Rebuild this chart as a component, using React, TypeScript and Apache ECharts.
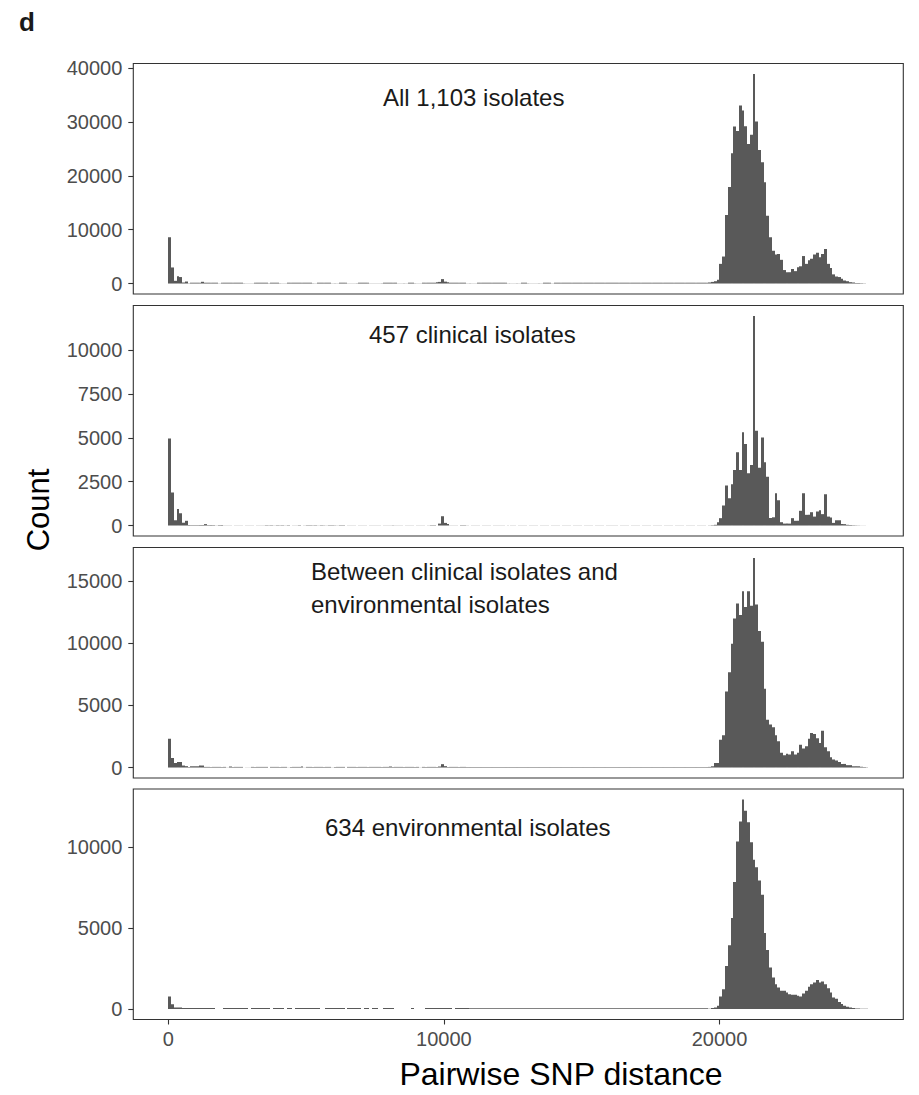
import React, { useEffect, useRef } from "react";
import * as echarts from "echarts";

const FONT = "'Liberation Sans', Arial, Helvetica, sans-serif";
const BIN_WIDTH = 100;
const PEAK_START_BIN = 196;
const X_MIN = -1270;
const X_MAX = 26670;
const X_TICKS = [0, 10000, 20000];

const panelTitles = [
  ["All 1,103 isolates"],
  ["457 clinical isolates"],
  ["Between clinical isolates and", "environmental isolates"],
  ["634 environmental isolates"],
];

const yTicks = [
  [0, 10000, 20000, 30000, 40000],
  [0, 2500, 5000, 7500, 10000],
  [0, 5000, 10000, 15000],
  [0, 5000, 10000],
];

// ---- Panel 1: all 1,103 isolates ----
const allHead = [8600, 2980, 500, 1350, 1200, 190, 370, 40];
const allRuns = [
  [8, 11, 150], [12, 12, 320], [13, 17, 150], [18, 18, 30], [19, 26, 150], [27, 30, 30],
  [31, 35, 150], [36, 36, 30], [37, 39, 150], [40, 42, 30], [43, 51, 150], [52, 53, 30],
  [54, 58, 150], [59, 61, 30], [62, 64, 150], [65, 68, 30], [69, 72, 150], [73, 77, 30],
  [78, 82, 150], [83, 86, 30], [87, 88, 150], [89, 91, 30], [92, 96, 150], [97, 97, 250],
  [98, 98, 300], [99, 99, 820], [100, 100, 350], [101, 101, 250], [102, 107, 150],
  [108, 111, 30], [112, 122, 150], [123, 127, 30], [128, 129, 150], [130, 135, 30],
  [136, 138, 150], [139, 139, 30], [140, 195, 150],
];
const allPeak = [
  200, 300, 430, 680, 3650, 5010, 12700, 17900, 24200, 29150, 28300, 33050, 32100, 29200,
  25900, 27600, 38900, 30100, 24800, 22500, 18800, 12600, 8600, 6100, 5400, 5500, 4400,
  2500, 2100, 2100, 2700, 2300, 3000, 3200, 5100, 3650, 4300, 4600, 5400, 5700, 4900,
  5500, 6400, 3650, 2900, 1700, 1300, 1200, 870, 560, 430, 250, 190, 120, 100, 70, 40, 20,
];

// ---- Panel 2: 457 clinical isolates ----
const clinHead = [4970, 1880, 300, 950, 700, 160, 270, 30];
const clinRuns = [
  [8, 11, 25], [12, 12, 30], [13, 13, 80], [14, 16, 25], [17, 17, 8], [18, 19, 25],
  [20, 34, 8], [35, 37, 20], [38, 38, 8], [39, 41, 20], [42, 42, 8], [43, 43, 20],
  [44, 46, 8], [47, 47, 20], [48, 49, 8], [50, 53, 20], [54, 54, 8], [55, 56, 20],
  [57, 57, 8], [58, 60, 20], [61, 61, 8], [62, 63, 20], [64, 80, 8], [81, 81, 20],
  [82, 94, 8], [95, 96, 20], [97, 97, 8], [98, 98, 110], [99, 99, 530], [100, 100, 150],
  [101, 101, 80], [102, 105, 8], [106, 107, 20], [108, 195, 8],
];
const clinPeak = [
  10, 20, 40, 190, 420, 1140, 2280, 1560, 2350, 3170, 4180, 3170, 5320, 4650, 2980, 3450,
  11960, 5410, 3300, 5030, 3610, 2790, 430, 470, 1840, 1440, 190, 110, 110, 110, 420, 270,
  270, 840, 1840, 610, 610, 760, 510, 800, 870, 650, 1780, 510, 460, 150, 300, 300, 80,
  80, 40, 30, 20, 10, 10, 5, 5, 5,
];

// ---- Panel 3: between clinical and environmental isolates ----
const betwHead = [2320, 770, 370, 450, 450, 160, 110, 50, 100, 100, 100, 160, 160, 50];
const betwRuns = [
  [14, 20, 50], [21, 21, 10], [22, 22, 80], [23, 26, 50], [27, 29, 10], [30, 35, 50],
  [36, 36, 10], [37, 42, 50], [43, 43, 10], [44, 47, 50], [48, 48, 90], [49, 49, 10],
  [50, 58, 50], [59, 59, 10], [60, 63, 50], [64, 64, 10], [65, 79, 50], [80, 80, 80],
  [81, 90, 50], [91, 91, 10], [92, 97, 50], [98, 98, 80], [99, 99, 270], [100, 100, 110],
  [101, 107, 50], [108, 195, 40],
];
const betwPeak = [
  50, 100, 370, 370, 2240, 2590, 6120, 7670, 9960, 11990, 13190, 12260, 14180, 12900,
  14180, 13000, 16850, 13110, 10980, 10120, 6330, 3850, 3450, 3230, 2590, 2110, 1180, 990,
  1100, 1040, 1310, 1040, 1180, 1840, 1520, 1710, 2320, 2780, 2700, 2350, 1980, 2960,
  1630, 1310, 830, 640, 560, 450, 290, 290, 190, 190, 100, 100, 100, 60, 40, 20,
];

// ---- Panel 4: 634 environmental isolates ----
const envHead = [780, 290, 100, 100, 100];
const envRuns = [
  [5, 16, 60], [17, 19, 8], [20, 28, 60], [29, 29, 8], [30, 36, 60], [37, 37, 8],
  [38, 41, 60], [42, 42, 8], [43, 44, 60], [45, 45, 8], [46, 54, 60], [55, 56, 8],
  [57, 63, 60], [64, 64, 8], [65, 69, 60], [70, 70, 8], [71, 72, 60], [73, 73, 8],
  [74, 75, 60], [76, 77, 8], [78, 81, 60], [82, 87, 8], [88, 88, 60], [89, 92, 8],
  [93, 102, 60], [103, 103, 8], [104, 108, 60], [109, 195, 45],
];
const envPeak = [
  20, 60, 100, 200, 780, 1230, 2670, 3940, 5640, 7860, 10370, 11600, 12970, 12270, 11560,
  10320, 9240, 8780, 7960, 7080, 4700, 3650, 2570, 1950, 1540, 1330, 1130, 1130, 1030,
  920, 880, 880, 820, 780, 960, 1130, 1380, 1540, 1640, 1790, 1640, 1700, 1540, 1290,
  1030, 720, 640, 430, 310, 200, 140, 100, 60, 40, 30, 20, 15, 10,
];

const panelData = [
  { head: allHead, runs: allRuns, peak: allPeak },
  { head: clinHead, runs: clinRuns, peak: clinPeak },
  { head: betwHead, runs: betwRuns, peak: betwPeak },
  { head: envHead, runs: envRuns, peak: envPeak },
];

function buildBins(head: number[], runs: number[][], peak: number[]) {
  const counts = new Map<number, number>();
  head.forEach((c, i) => counts.set(i, c));
  runs.forEach(([a, b, c]) => {
    for (let k = a; k <= b; k++) counts.set(k, c);
  });
  peak.forEach((c, i) => counts.set(PEAK_START_BIN + i, c));
  return Array.from(counts.entries())
    .filter(([, c]) => c > 0)
    .sort((p, q) => p[0] - q[0])
    .map(([k, c]) => [k * BIN_WIDTH, (k + 1) * BIN_WIDTH, c]);
}

const GRID_LEFT = 133.3;
const GRID_WIDTH = 770;
const GRID_TOPS = [63.5, 305.5, 547.5, 789];
const GRID_HEIGHT = 230.5;

const titlePos = [
  { x: 383, y: 97 },
  { x: 369, y: 334 },
  { x: 311, y: 571 },
  { x: 325, y: 827 },
];

const plainNumber = (v: number) => String(v);

export default function App() {
  const ref = useRef<HTMLDivElement>(null);
  useEffect(() => {
    if (!ref.current) return;
    const chart = echarts.init(ref.current, undefined, { renderer: "svg" });

    const bins = panelData.map((p) => buildBins(p.head, p.runs, p.peak));

    const grids = GRID_TOPS.map((top) => ({
      left: GRID_LEFT,
      width: GRID_WIDTH,
      top,
      height: GRID_HEIGHT,
      show: true,
      borderColor: "#333333",
      borderWidth: 1.1,
      backgroundColor: "transparent",
    }));

    const xAxes = GRID_TOPS.map((_, i) => ({
      type: "value",
      gridIndex: i,
      min: X_MIN,
      max: X_MAX,
      axisLine: { show: false, onZero: false },
      splitLine: { show: false },
      axisTick: {
        show: i === 3,
        customValues: X_TICKS,
        length: 5,
        lineStyle: { color: "#333333", width: 1.1 },
      },
      axisLabel: {
        show: i === 3,
        customValues: X_TICKS,
        formatter: plainNumber,
        color: "#4d4d4d",
        fontSize: 20,
        fontFamily: FONT,
        margin: 9,
      },
    }));

    const yAxes = bins.map((b, i) => {
      const m = Math.max(...b.map((d) => d[2]));
      return {
        type: "value",
        gridIndex: i,
        min: -0.05 * m,
        max: 1.05 * m,
        axisLine: { show: false, onZero: false },
        splitLine: { show: false },
        axisTick: {
          show: true,
          customValues: yTicks[i],
          length: 5,
          lineStyle: { color: "#333333", width: 1.1 },
        },
        axisLabel: {
          show: true,
          customValues: yTicks[i],
          formatter: plainNumber,
          color: "#4d4d4d",
          fontSize: 20,
          fontFamily: FONT,
          margin: 11,
        },
      };
    });

    const series = bins.map((b, i) => ({
      type: "custom",
      xAxisIndex: i,
      yAxisIndex: i,
      data: b,
      encode: { x: [0, 1], y: 2 },
      clip: true,
      renderItem: (_params: any, api: any) => {
        const p0 = api.coord([api.value(0), 0]);
        const p1 = api.coord([api.value(1), api.value(2)]);
        const x0 = Math.round(p0[0]);
        const x1 = Math.round(p1[0]);
        return {
          type: "rect",
          shape: {
            x: x0,
            y: p1[1],
            width: x1 - x0,
            height: p0[1] - p1[1],
          },
          style: { fill: "#595959" },
        };
      },
    }));

    const graphics: any[] = [
      {
        type: "text",
        x: 19,
        y: 22,
        style: {
          text: "d",
          fontSize: 26,
          fontWeight: "bold",
          fontFamily: FONT,
          fill: "#1a1a1a",
          verticalAlign: "middle",
        },
      },
      {
        type: "text",
        x: 38,
        y: 510,
        rotation: Math.PI / 2,
        style: {
          text: "Count",
          fontSize: 31,
          fontFamily: FONT,
          fill: "#000000",
          align: "center",
          verticalAlign: "middle",
        },
      },
      {
        type: "text",
        x: 561,
        y: 1074,
        style: {
          text: "Pairwise SNP distance",
          fontSize: 32,
          fontFamily: FONT,
          fill: "#000000",
          align: "center",
          verticalAlign: "middle",
        },
      },
    ];
    panelTitles.forEach((lines, i) => {
      lines.forEach((line, j) => {
        graphics.push({
          type: "text",
          x: titlePos[i].x,
          y: titlePos[i].y + j * 33,
          style: {
            text: line,
            fontSize: 24,
            fontFamily: FONT,
            fill: "#1a1a1a",
            align: "left",
            verticalAlign: "middle",
          },
        });
      });
    });

    chart.setOption({
      animation: false,
      backgroundColor: "#ffffff",
      grid: grids,
      xAxis: xAxes,
      yAxis: yAxes,
      series,
      graphic: graphics,
    });

    return () => chart.dispose();
  }, []);

  return (
    <div
      ref={ref}
      style={{ position: "absolute", left: 0, top: 0, width: 919, height: 1095 }}
    />
  );
}
